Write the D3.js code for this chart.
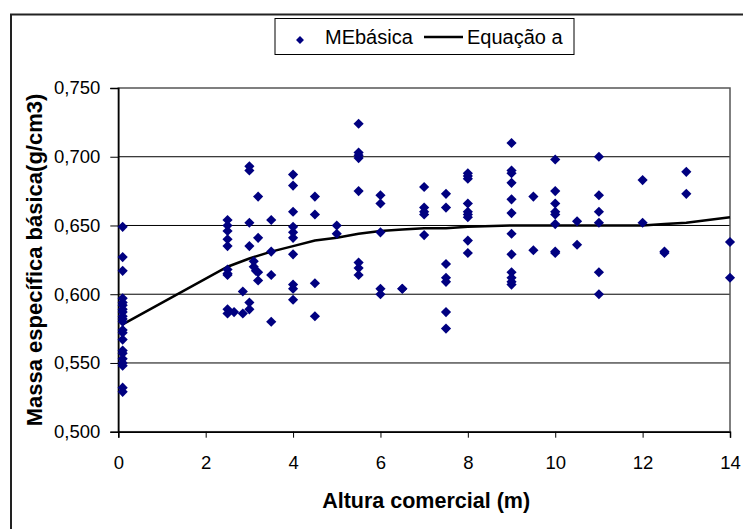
<!DOCTYPE html>
<html>
<head>
<meta charset="utf-8">
<script src="https://cdn.jsdelivr.net/npm/d3@7"></script>
<style>
  body { margin: 0; background: #fff; }
  svg { display: block; font-family: "Liberation Sans", Arial, sans-serif; }
</style>
</head>
<body>
<svg id="chart" width="743" height="529"></svg>
<script>
// MEbásica observations (altura comercial, massa específica básica)
const meX = [
  0.1, 0.1, 0.1, 0.1, 0.1, 0.1, 0.1, 0.1, 0.1, 0.1, 0.1, 0.1, 0.1, 0.1, 0.1, 0.1, 0.1, 0.1, 0.1, 0.1, 0.1,
  2.5, 2.5, 2.5, 2.5, 2.5, 2.5, 2.5, 2.5, 2.5, 2.5, 2.65,
  2.85, 2.85,
  3, 3, 3, 3, 3, 3,
  3.1, 3.1, 3.15,
  3.2, 3.2, 3.2, 3.2,
  3.5, 3.5, 3.5, 3.5,
  4, 4, 4, 4, 4, 4, 4, 4, 4, 4,
  4.5, 4.5, 4.5, 4.5,
  5, 5,
  5.5, 5.5, 5.5, 5.5, 5.5, 5.5, 5.5, 5.5,
  6, 6, 6, 6, 6,
  6.5, 6.5,
  7, 7, 7, 7, 7,
  7.5, 7.5, 7.5, 7.5, 7.5, 7.5, 7.5,
  8, 8, 8, 8, 8, 8, 8, 8, 8,
  9, 9, 9, 9, 9, 9, 9, 9, 9, 9, 9, 9,
  9.5, 9.5,
  10, 10, 10, 10, 10, 10, 10, 10,
  10.5, 10.5,
  11, 11, 11, 11, 11, 11,
  12, 12,
  12.5, 12.5,
  13, 13,
  14, 14
];
const meY = [
  0.649, 0.627, 0.617, 0.597, 0.594, 0.592, 0.589, 0.587, 0.584, 0.582, 0.580, 0.574, 0.572, 0.567, 0.559, 0.557, 0.553, 0.550, 0.548, 0.532, 0.529,
  0.654, 0.650, 0.646, 0.640, 0.635, 0.618, 0.615, 0.614, 0.589, 0.586, 0.587,
  0.602, 0.586,
  0.693, 0.690, 0.652, 0.635, 0.594, 0.589,
  0.624, 0.620, 0.617,
  0.671, 0.641, 0.616, 0.610,
  0.654, 0.631, 0.614, 0.580,
  0.687, 0.679, 0.660, 0.649, 0.645, 0.641, 0.629, 0.607, 0.604, 0.596,
  0.671, 0.658, 0.608, 0.584,
  0.650, 0.644,
  0.724, 0.703, 0.701, 0.699, 0.675, 0.623, 0.619, 0.614,
  0.672, 0.666, 0.645, 0.604, 0.600,
  0.604, 0.604,
  0.678, 0.663, 0.660, 0.658, 0.643,
  0.673, 0.663, 0.622, 0.612, 0.609, 0.587, 0.575,
  0.688, 0.686, 0.684, 0.666, 0.660, 0.658, 0.656, 0.639, 0.630,
  0.710, 0.690, 0.688, 0.681, 0.669, 0.659, 0.644, 0.629, 0.616, 0.612, 0.609, 0.607,
  0.671, 0.632,
  0.698, 0.675, 0.666, 0.660, 0.658, 0.651, 0.631, 0.630,
  0.653, 0.636,
  0.700, 0.672, 0.660, 0.652, 0.616, 0.600,
  0.683, 0.652,
  0.631, 0.630,
  0.689, 0.673,
  0.638, 0.612
];

// Equação a (fitted curve)
const eqX = [0.1, 2.5, 3, 3.5, 4, 4.5, 5, 5.5, 6, 6.5, 7, 7.5, 8, 9, 10, 11, 12, 12.5, 13, 14];
const eqY = [0.578, 0.620, 0.626, 0.631, 0.635, 0.639, 0.641, 0.644, 0.646, 0.647, 0.648, 0.648, 0.649, 0.650, 0.650, 0.650, 0.650, 0.651, 0.652, 0.656];

const xTicks = [0, 2, 4, 6, 8, 10, 12, 14];
const yTicks = [0.5, 0.55, 0.6, 0.65, 0.7, 0.75];

const svg = d3.select('#chart');
const plotLeft = 118.3, plotRight = 730, plotTop = 88, plotBottom = 431.7;

const x = d3.scaleLinear().domain([0, 14]).range([plotLeft, plotRight]);
const y = d3.scaleLinear().domain([0.5, 0.75]).range([plotBottom, plotTop]);
const fmt = d => d3.format('.3f')(d).replace('.', ',');

// outer chart frame (runs off the canvas at right and bottom)
svg.append('rect')
    .attr('x', 11).attr('y', 14.5)
    .attr('width', 760).attr('height', 540)
    .attr('fill', 'none').attr('stroke', '#222').attr('stroke-width', 2);

// gridlines
svg.append('g')
    .selectAll('line')
    .data(yTicks.slice(1, -1))
    .enter().append('line')
    .attr('x1', plotLeft).attr('x2', plotRight)
    .attr('y1', d => y(d)).attr('y2', d => y(d))
    .attr('stroke', '#000').attr('stroke-width', 1);

// plot area border
svg.append('rect')
    .attr('x', plotLeft).attr('y', plotTop)
    .attr('width', plotRight - plotLeft).attr('height', plotBottom - plotTop)
    .attr('fill', 'none').attr('stroke', '#555').attr('stroke-width', 1.5);

// axes
const xAxis = svg.append('g')
    .attr('transform', `translate(0,${plotBottom})`)
    .call(d3.axisBottom(x).tickValues(xTicks).tickSize(6).tickPadding(18).tickFormat(d3.format('d')));
const yAxis = svg.append('g')
    .attr('transform', `translate(${plotLeft},0)`)
    .call(d3.axisLeft(y).tickValues(yTicks).tickSize(8).tickPadding(10).tickFormat(fmt));

[xAxis, yAxis].forEach(g => {
    g.select('.domain').attr('stroke', '#000').attr('stroke-width', 1.5);
    g.selectAll('.tick line').attr('stroke', '#000').attr('stroke-width', 1);
    g.selectAll('text').attr('fill', '#000')
        .style('font-family', '"Liberation Sans", Arial, sans-serif')
        .style('font-size', '18.5px');
});

// fitted curve
const line = d3.line()
    .x(d => x(d[0]))
    .y(d => y(d[1]));
svg.append('path')
    .datum(d3.zip(eqX, eqY))
    .attr('d', line)
    .attr('fill', 'none')
    .attr('stroke', '#000')
    .attr('stroke-width', 2.5);

// points
const diamond = d3.symbol().type(d3.symbolDiamond2).size(66);
svg.append('g')
    .selectAll('path')
    .data(d3.zip(meX, meY))
    .enter().append('path')
    .attr('d', diamond)
    .attr('transform', d => `translate(${x(d[0])},${y(d[1])})`)
    .attr('fill', '#000080');

// axis titles
svg.append('text')
    .attr('x', (plotLeft + plotRight) / 2 + 2).attr('y', 508)
    .attr('text-anchor', 'middle')
    .style('font-size', '21.5px').style('font-weight', 'bold')
    .text('Altura comercial (m)');

svg.append('text')
    .attr('transform', 'translate(42,260) rotate(-90)')
    .attr('text-anchor', 'middle')
    .style('font-size', '22px').style('font-weight', 'bold')
    .text('Massa específica básica(g/cm3)');

// legend
const legend = svg.append('g');
legend.append('rect')
    .attr('x', 275).attr('y', 18.5)
    .attr('width', 299).attr('height', 36)
    .attr('fill', '#fff').attr('stroke', '#000').attr('stroke-width', 1);
legend.append('path')
    .attr('d', d3.symbol().type(d3.symbolDiamond2).size(40))
    .attr('transform', 'translate(300,40)')
    .attr('fill', '#000080');
legend.append('text')
    .attr('x', 325).attr('y', 44)
    .style('font-size', '20px')
    .text('MEbásica');
legend.append('line')
    .attr('x1', 424).attr('x2', 463)
    .attr('y1', 37).attr('y2', 37)
    .attr('stroke', '#000').attr('stroke-width', 2.5);
legend.append('text')
    .attr('x', 467).attr('y', 44)
    .style('font-size', '20px')
    .text('Equação a');
</script>
</body>
</html>
